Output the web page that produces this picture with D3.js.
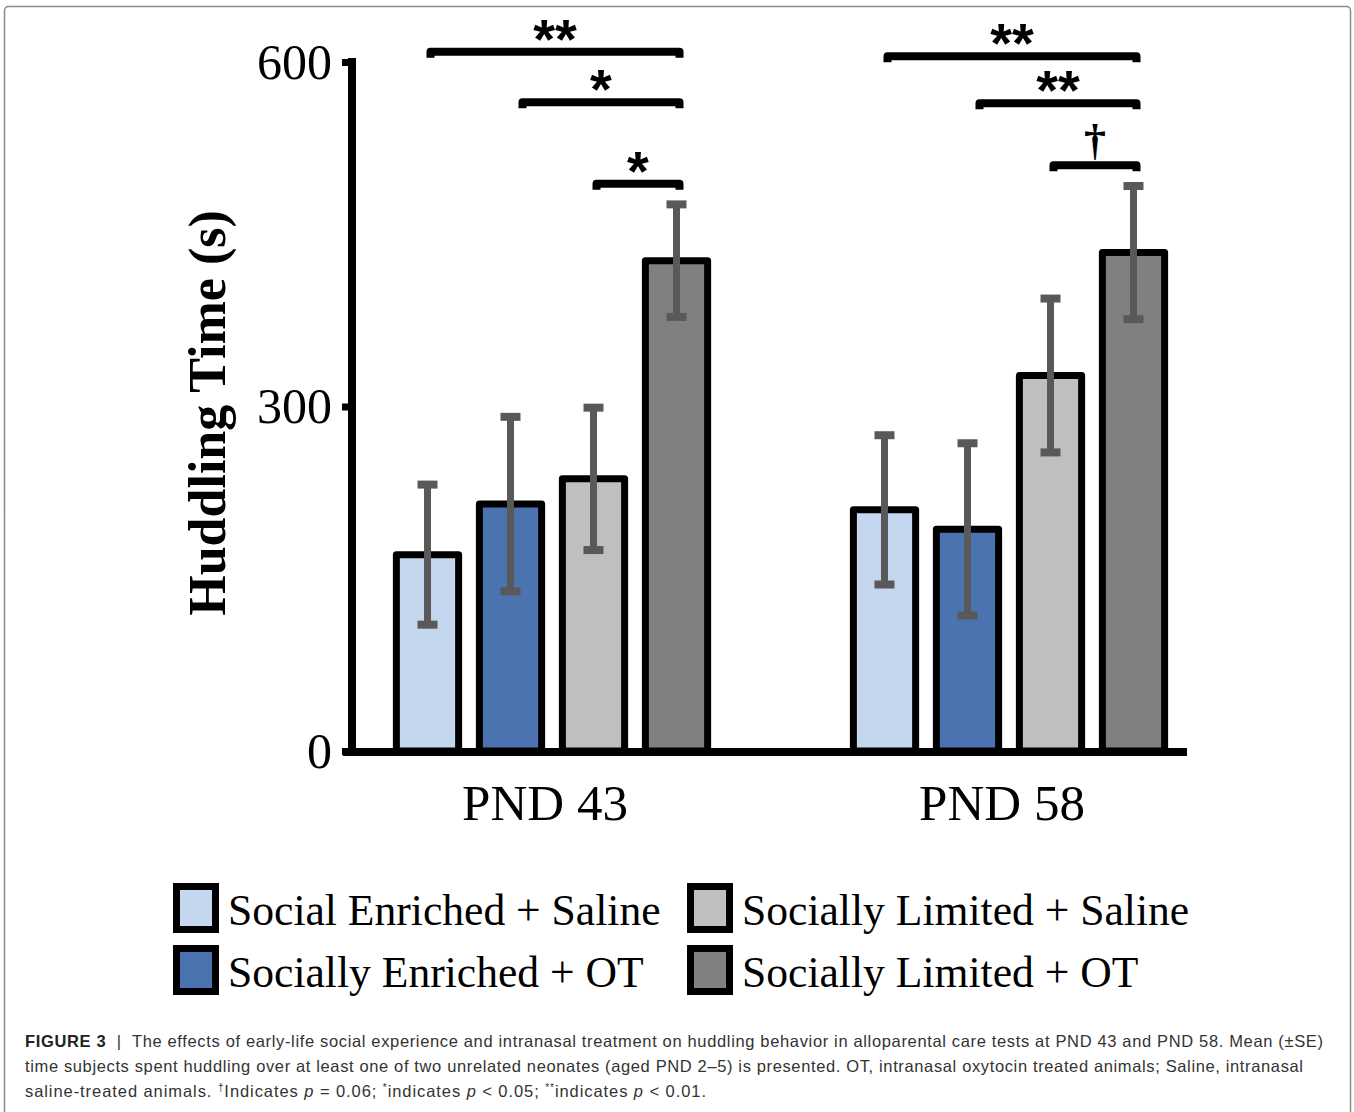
<!DOCTYPE html>
<html>
<head>
<meta charset="utf-8">
<script src="https://cdnjs.cloudflare.com/ajax/libs/d3/7.8.5/d3.min.js"></script>
<style>
  body { margin: 0; background: #fff; }
  svg { display: block; }
</style>
</head>
<body>
<div id="chart"></div>
<script>
// values (seconds)
var groups = ['PND 43', 'PND 58'];
var series = ['Social Enriched + Saline', 'Socially Enriched + OT', 'Socially Limited + Saline', 'Socially Limited + OT'];
var colors = ['#c5d7ee', '#4a73b0', '#bfbfbf', '#808080'];
var means43 = [171, 215, 237, 427];
var se43 = [61, 76, 62, 49];
var means58 = [210, 193, 327, 434];
var se58 = [65, 75, 67, 58];
var yTicks = [0, 300, 600];

// significance brackets: group, from bar, to bar, height (s), label
var sigGroup = ['PND 43', 'PND 43', 'PND 43', 'PND 58', 'PND 58', 'PND 58'];
var sigFrom = [0, 1, 2, 0, 1, 2];
var sigTo = [3, 3, 3, 3, 3, 3];
var sigLevel = [609, 565, 494, 605, 564, 510];
var sigLabel = ['**', '*', '*', '**', '**', '\u2020'];

var W = 1354, H = 1112;
var svg = d3.select('#chart').append('svg')
    .attr('width', W)
    .attr('height', H);

// frame round the figure
svg.append('rect')
    .attr('x', 4.5).attr('y', 6.5)
    .attr('width', 1346).attr('height', 1110)
    .attr('rx', 4)
    .attr('fill', 'none')
    .attr('stroke', '#8a8a8a')
    .attr('stroke-width', 1.5);

var y = d3.scaleLinear().domain([0, 600]).range([751, 62]);
var x0 = d3.scaleBand().domain(groups).range([323.5, 1237.5]);
var x1 = d3.scaleBand().domain(series)
    .range([x0.bandwidth() / 2 - 166, x0.bandwidth() / 2 + 166])
    .paddingInner(0.25).paddingOuter(0.125);

var rows = [];
groups.forEach(function(g, gi) {
  var m = gi === 0 ? means43 : means58;
  var s = gi === 0 ? se43 : se58;
  series.forEach(function(k, i) {
    rows.push({group: g, key: k, i: i, mean: m[i], se: s[i]});
  });
});

function barCenter(g, i) {
  return x0(g) + x1(series[i]) + x1.bandwidth() / 2;
}

// bars
svg.append('g').selectAll('rect')
    .data(rows)
  .enter().append('rect')
    .attr('x', function(d) { return x0(d.group) + x1(d.key); })
    .attr('y', function(d) { return y(d.mean); })
    .attr('width', x1.bandwidth())
    .attr('height', function(d) { return y(0) - y(d.mean); })
    .attr('fill', function(d) { return colors[d.i]; })
    .attr('stroke', '#000')
    .attr('stroke-width', 7)
    .attr('stroke-linejoin', 'round');

// error bars
var err = svg.append('g').selectAll('g')
    .data(rows)
  .enter().append('g')
    .attr('stroke', '#595959');

err.append('line')
    .attr('x1', function(d) { return barCenter(d.group, d.i); })
    .attr('x2', function(d) { return barCenter(d.group, d.i); })
    .attr('y1', function(d) { return y(d.mean + d.se); })
    .attr('y2', function(d) { return y(d.mean - d.se); })
    .attr('stroke-width', 7);

[1, -1].forEach(function(sign) {
  err.append('line')
      .attr('x1', function(d) { return barCenter(d.group, d.i) - 10; })
      .attr('x2', function(d) { return barCenter(d.group, d.i) + 10; })
      .attr('y1', function(d) { return y(d.mean + sign * d.se); })
      .attr('y2', function(d) { return y(d.mean + sign * d.se); })
      .attr('stroke-width', 8);
});

// axes
var yAxis = svg.append('g')
    .attr('transform', 'translate(352,0)')
    .call(d3.axisLeft(y).tickValues(yTicks).tickSize(10).tickSizeOuter(0).tickPadding(10));
yAxis.select('.domain')
    .attr('stroke', '#000')
    .attr('stroke-width', 8)
    .attr('d', 'M0,' + (y(600) - 4) + 'V' + (y(0) + 4));
yAxis.selectAll('.tick line').attr('stroke', '#000').attr('stroke-width', 7);
yAxis.selectAll('.tick text')
    .attr('fill', '#000')
    .style('font-family', '"Liberation Serif", "Times New Roman", serif')
    .style('font-size', '50px');

svg.append('line')
    .attr('x1', 343).attr('x2', 1187)
    .attr('y1', y(0) + 1).attr('y2', y(0) + 1)
    .attr('stroke', '#000')
    .attr('stroke-width', 8);

svg.append('g').selectAll('text')
    .data(groups)
  .enter().append('text')
    .attr('x', function(d) { return x0(d) + x0.bandwidth() / 2 - 7; })
    .attr('y', 820)
    .attr('text-anchor', 'middle')
    .style('font-family', '"Liberation Serif", "Times New Roman", serif')
    .style('font-size', '51px')
    .text(function(d) { return d; });

svg.append('text')
    .attr('transform', 'translate(225,413) rotate(-90)')
    .attr('text-anchor', 'middle')
    .style('font-family', '"Liberation Serif", "Times New Roman", serif')
    .style('font-size', '52px')
    .style('font-weight', 'bold')
    .text('Huddling Time (s)');

// significance brackets
var sig = sigLabel.map(function(l, i) {
  return {x1: barCenter(sigGroup[i], sigFrom[i]) + (sigFrom[i] === 1 ? 12 : 3),
          x2: barCenter(sigGroup[i], sigTo[i]) + 3,
          yl: y(sigLevel[i]), label: l};
});

svg.append('g').selectAll('path')
    .data(sig)
  .enter().append('path')
    .attr('d', function(d) {
      return 'M' + d.x1 + ',' + (d.yl + 6) + 'V' + d.yl + 'H' + d.x2 + 'V' + (d.yl + 6);
    })
    .attr('fill', 'none')
    .attr('stroke', '#000')
    .attr('stroke-width', 8)
    .attr('stroke-linejoin', 'round');

svg.append('g').selectAll('text')
    .data(sig)
  .enter().append('text')
    .attr('x', function(d) { return (d.x1 + d.x2) / 2; })
    .attr('y', function(d) { return d.label === '\u2020' ? d.yl - 10 : d.yl + 6; })
    .attr('text-anchor', 'middle')
    .style('font-family', function(d) {
      return d.label === '\u2020' ? '"Liberation Serif", serif' : '"Liberation Sans", Arial, sans-serif';
    })
    .style('font-weight', 'bold')
    .style('font-size', function(d) { return d.label === '\u2020' ? '44px' : '56px'; })
    .text(function(d) { return d.label; });

// legend
var legend = svg.append('g').selectAll('g')
    .data(series)
  .enter().append('g')
    .attr('transform', function(d, i) {
      var col = i < 2 ? 0 : 1, row = i % 2;
      return 'translate(' + (176.5 + col * 514) + ',' + (886.5 + row * 62) + ')';
    });

legend.append('rect')
    .attr('width', 39).attr('height', 43)
    .attr('fill', function(d, i) { return colors[i]; })
    .attr('stroke', '#000')
    .attr('stroke-width', 7);

legend.append('text')
    .attr('x', 51.5)
    .attr('y', 38.5)
    .style('font-family', '"Liberation Serif", "Times New Roman", serif')
    .style('font-size', '43.6px')
    .text(function(d) { return d; });

// caption
var cap = svg.append('g')
    .style('font-family', '"Liberation Sans", Arial, Helvetica, sans-serif')
    .style('font-size', '16.5px')
    .attr('fill', '#333');

var l1 = cap.append('text').attr('x', 25).attr('y', 1047)
    .attr('textLength', 1298).attr('lengthAdjust', 'spacing');
l1.append('tspan').style('font-weight', 'bold').attr('fill', '#222').text('FIGURE 3');
l1.append('tspan').text('  |  The effects of early-life social experience and intranasal treatment on huddling behavior in alloparental care tests at PND 43 and PND 58. Mean (\u00b1SE)')
    .style('white-space', 'pre');

cap.append('text').attr('x', 25).attr('y', 1072)
    .attr('textLength', 1278).attr('lengthAdjust', 'spacing')
    .text('time subjects spent huddling over at least one of two unrelated neonates (aged PND 2\u20135) is presented. OT, intranasal oxytocin treated animals; Saline, intranasal');

var l3 = cap.append('text').attr('x', 25).attr('y', 1097)
    .attr('textLength', 681).attr('lengthAdjust', 'spacing');
l3.append('tspan').text('saline-treated animals. ');
l3.append('tspan').attr('dy', -6).style('font-size', '10px').text('\u2020');
l3.append('tspan').attr('dy', 6).text('Indicates ');
l3.append('tspan').style('font-style', 'italic').text('p');
l3.append('tspan').text(' = 0.06; ');
l3.append('tspan').attr('dy', -6).style('font-size', '10px').text('*');
l3.append('tspan').attr('dy', 6).text('indicates ');
l3.append('tspan').style('font-style', 'italic').text('p');
l3.append('tspan').text(' < 0.05; ');
l3.append('tspan').attr('dy', -6).style('font-size', '10px').text('**');
l3.append('tspan').attr('dy', 6).text('indicates ');
l3.append('tspan').style('font-style', 'italic').text('p');
l3.append('tspan').text(' < 0.01.');
</script>
</body>
</html>
